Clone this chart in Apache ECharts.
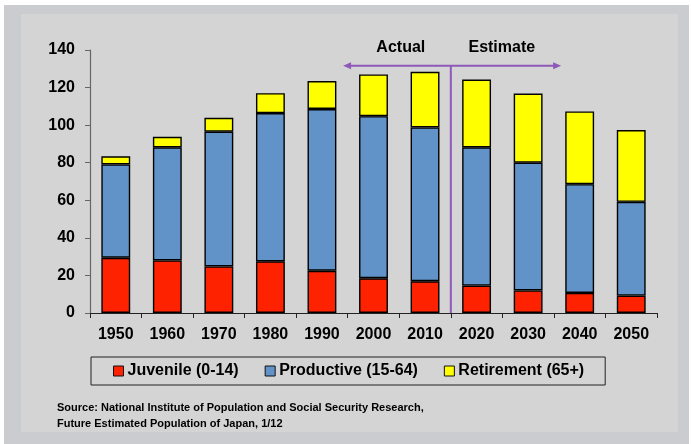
<!DOCTYPE html>
<html>
<head>
<meta charset="utf-8">
<script src="https://cdn.jsdelivr.net/npm/echarts@6/dist/echarts.min.js"></script>
<style>
html,body{margin:0;padding:0;background:#ffffff;}
#main{width:691px;height:444px;}
</style>
</head>
<body>
<div id="main"></div>
<script>
var years = ['1950','1960','1970','1980','1990','2000','2010','2020','2030','2040','2050'];
var juvenile = [29.4, 28.0, 24.8, 27.5, 22.5, 18.5, 16.9, 14.6, 12.0, 10.7, 9.3];
var productive = [49.7, 60.2, 71.7, 78.9, 86.1, 86.3, 81.9, 73.6, 68.0, 57.9, 49.9];
var retirement = [4.3, 5.6, 7.4, 10.6, 14.9, 22.2, 29.6, 36.1, 36.8, 38.7, 38.2];
var yTicks = [0, 20, 40, 60, 80, 100, 120, 140];
var seriesNames = ['Juvenile (0-14)', 'Productive (15-64)', 'Retirement (65+)'];
var colors = ['#ff2200', '#6193c9', '#ffff00'];
var arrowLevel = 131.6; // y value of the Actual/Estimate arrow
var arrowFrom = 4.41, arrowTo = 8.64; // category-index positions of the arrow ends
var splitBetween = [6, 7]; // divider between 2010 and 2020

var FONT = '"Liberation Sans", Arial, sans-serif';
var chart = echarts.init(document.getElementById('main'), null, {renderer: 'canvas'});

function mk(i, data) {
  return {
    name: seriesNames[i], type: 'bar', stack: 'pop', data: data,
    barWidth: '56%',
    itemStyle: {color: colors[i], borderColor: '#000', borderWidth: 1.4},
    emphasis: {disabled: true}
  };
}

var option = {
  animation: false,
  textStyle: {fontFamily: FONT},
  grid: {left: 90, right: 34, top: 50, bottom: 131},
  legend: {
    data: seriesNames,
    left: 91, top: 357,
    orient: 'horizontal',
    icon: 'rect', itemWidth: 10, itemHeight: 10, itemGap: 26,
    padding: [6, 21, 6, 22],
    borderColor: '#222', borderWidth: 1,
    textStyle: {fontFamily: FONT, fontSize: 16, fontWeight: 'bold', color: '#000', padding: [0,0,0,-1]},
    itemStyle: {borderColor: '#111', borderWidth: 1}
  },
  xAxis: {
    type: 'category', data: years,
    axisLine: {lineStyle: {color: '#222', width: 1.2}},
    axisTick: {show: true, length: 5, lineStyle: {color: '#222'}},
    axisLabel: {fontFamily: FONT, fontSize: 16, fontWeight: 'bold', color: '#000', margin: 14}
  },
  yAxis: {
    type: 'value', min: yTicks[0], max: yTicks[yTicks.length-1], interval: yTicks[1]-yTicks[0],
    splitLine: {show: false},
    axisLine: {show: true, lineStyle: {color: '#666', width: 1.2}},
    axisTick: {show: true, length: 5, lineStyle: {color: '#666'}},
    axisLabel: {fontFamily: FONT, fontSize: 16, fontWeight: 'bold', color: '#000', margin: 15}
  },
  series: [mk(0, juvenile), mk(1, productive), mk(2, retirement)]
};
chart.setOption(option);

// annotation positions derived from axes
function xAt(idx) {
  var a = chart.convertToPixel({xAxisIndex: 0}, 0);
  var b = chart.convertToPixel({xAxisIndex: 0}, 1);
  return a + (b - a) * idx;
}
var yArrow = chart.convertToPixel({yAxisIndex: 0}, arrowLevel);
var yZero = chart.convertToPixel({yAxisIndex: 0}, 0);
var xDiv = (xAt(splitBetween[0]) + xAt(splitBetween[1])) / 2;
var xL = xAt(arrowFrom), xR = xAt(arrowTo);
var purple = '#8e59b8';

chart.setOption({
  graphic: [
    {type: 'rect', z: -10, silent: true, shape: {x: 4, y: 5, width: 685, height: 439}, style: {fill: '#cbcccf'}},
    {type: 'rect', z: -9, silent: true, shape: {x: 21, y: 14, width: 657, height: 418}, style: {fill: '#d4d4d4'}},
    {type: 'line', z: 10, shape: {x1: xDiv, y1: yArrow, x2: xDiv, y2: yZero}, style: {stroke: purple, lineWidth: 2}},
    {type: 'line', z: 10, shape: {x1: xL + 4, y1: yArrow, x2: xR - 4, y2: yArrow}, style: {stroke: purple, lineWidth: 2}},
    {type: 'polygon', z: 10, shape: {points: [[xL, yArrow], [xL + 8, yArrow - 3.5], [xL + 8, yArrow + 3.5]]}, style: {fill: purple}},
    {type: 'polygon', z: 10, shape: {points: [[xR, yArrow], [xR - 8, yArrow - 3.5], [xR - 8, yArrow + 3.5]]}, style: {fill: purple}},
    {type: 'text', z: 10, x: xDiv - 50, y: yArrow - 18, style: {text: 'Actual', fill: '#000', font: 'bold 16px ' + FONT, textAlign: 'center', textVerticalAlign: 'middle'}},
    {type: 'text', z: 10, x: xDiv + 51, y: yArrow - 18, style: {text: 'Estimate', fill: '#000', font: 'bold 16px ' + FONT, textAlign: 'center', textVerticalAlign: 'middle'}},
    {type: 'text', z: 10, x: 57, y: 400, style: {text: 'Source: National Institute of Population and Social Security Research,\nFuture Estimated Population of Japan, 1/12', fill: '#000', font: 'bold 11px ' + FONT, lineHeight: 16}}
  ]
});
</script>
</body>
</html>
